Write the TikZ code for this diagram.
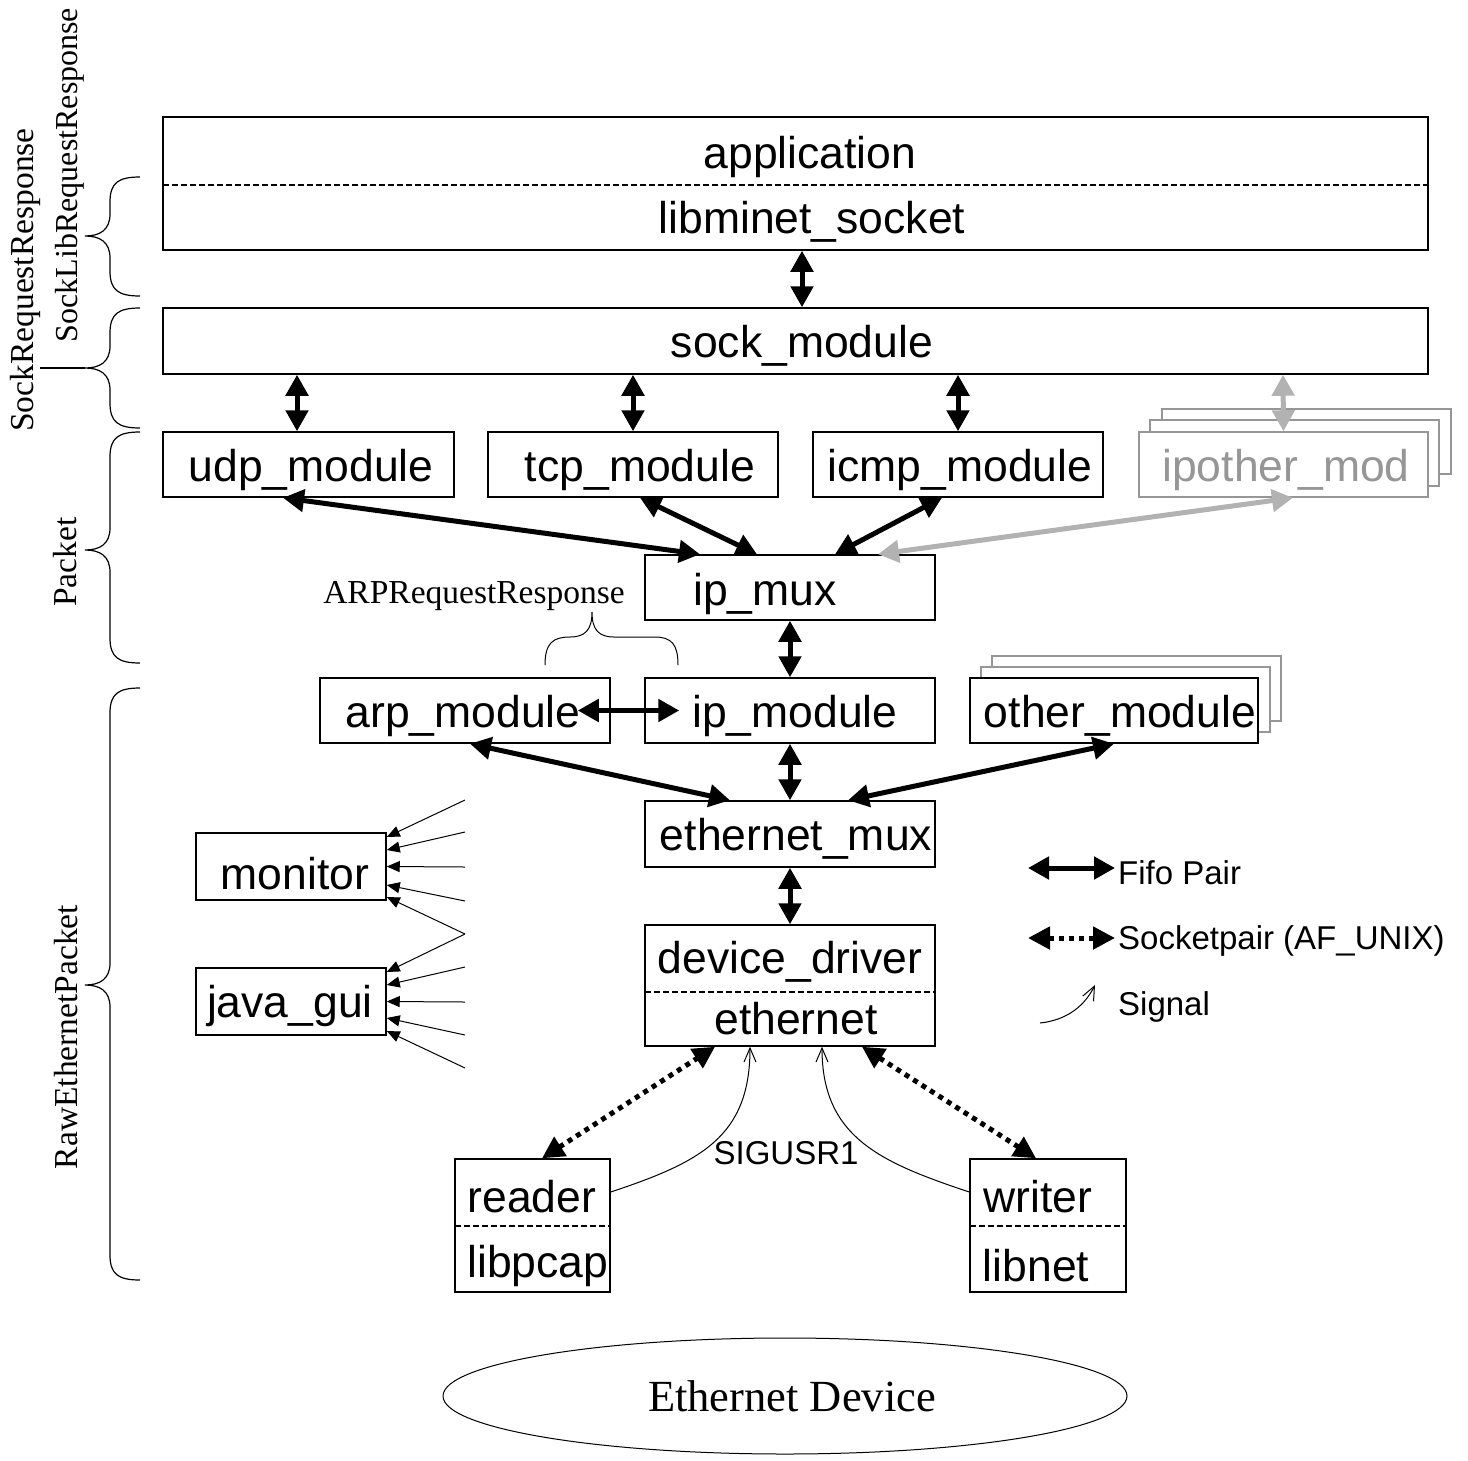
\documentclass[tikz,border=0pt]{standalone}
\usepackage{fontspec}
\setmainfont{Liberation Serif}
\setsansfont{Liberation Sans}
\usetikzlibrary{arrows.meta,fit,shapes.geometric}
\definecolor{grayA}{RGB}{150,150,150}
\definecolor{grayB}{RGB}{178,178,178}
\newcommand\mybrace[3]{\draw[bracel] (140,#1) .. controls (118,#1) and (110,#1+6) .. (110,#1+25) -- (110,#2-22) .. controls (110,#2-6) and (100,#2) .. (85,#2) .. controls (100,#2) and (110,#2+6) .. (110,#2+22) -- (110,#3-25) .. controls (110,#3-6) and (118,#3) .. (140,#3);}
\begin{document}
\begin{tikzpicture}[x=1pt,y=-1pt,
  box/.style={draw, line width=1.5pt, fill=white, inner sep=0pt},
  gbox/.style={draw=grayA, line width=1.5pt, fill=white, inner sep=0pt},
  lbl/.style={font=\sffamily\fontsize{44.5}{50}\selectfont, inner sep=0pt, yshift=-3.5pt},
  small/.style={font=\sffamily\fontsize{33}{38}\selectfont, inner sep=0pt},
  serif/.style={font=\fontsize{33.5}{38}\selectfont, inner sep=0pt},
  fifo/.style={line width=5pt, {Triangle[length=21pt,width=22pt]}-{Triangle[length=21pt,width=22pt]}},
  sockp/.style={line width=5pt, dash pattern=on 5pt off 5pt, {Triangle[length=22pt,width=22pt]}-{Triangle[length=22pt,width=22pt]}},
  sig/.style={line width=1pt, -{Straight Barb[length=14pt,width=12pt]}},
  mon/.style={line width=1pt, -{Triangle[length=13pt,width=11pt]}},
  sep/.style={line width=1.2pt, dash pattern=on 6pt off 3pt},
  bracel/.style={line width=1.2pt},
]
\useasboundingbox (0,0) rectangle (1468,1460);

% boxes
\node[box, fit={(163,117)(1428,250)}] (app) {};
\draw[sep] (163,185) -- (1428,185);
\node[box, fit={(163,308)(1428,374)}] (sock) {};
\node[box, fit={(163,432)(454,497)}] (udp) {};
\node[box, fit={(488,432)(778,497)}] (tcp) {};
\node[box, fit={(813,432)(1103,497)}] (icmp) {};
\node[gbox, fit={(1162,409)(1451,474)}] (ipo3) {};
\node[gbox, fit={(1150,420)(1439,486)}] (ipo2) {};
\node[gbox, fit={(1139,432)(1428,497)}] (ipother) {};
\node[box, fit={(645,555)(935,620)}] (ipmux) {};
\node[box, fit={(320,678)(610,743)}] (arp) {};
\node[box, fit={(645,678)(935,743)}] (ipmod) {};
\node[gbox, fit={(992,656)(1281,721)}] (oth3) {};
\node[gbox, fit={(981,667)(1270,732)}] (oth2) {};
\node[box, fit={(970,678)(1258,743)}] (other) {};
\node[box, fit={(645,801)(935,867)}] (emux) {};
\node[box, fit={(645,925)(935,1046)}] (dev) {};
\draw[sep] (645,992) -- (935,992);
\node[box, fit={(196,833)(386,900)}] (monitor) {};
\node[box, fit={(196,968)(386,1035)}] (javagui) {};
\node[box, fit={(455,1159)(610,1292)}] (reader) {};
\draw[sep] (455,1226) -- (610,1226);
\node[box, fit={(970,1159)(1126,1292)}] (writer) {};
\draw[sep] (970,1226) -- (1126,1226);
\node[draw, ellipse, line width=1pt, minimum width=684pt, minimum height=116pt, inner sep=0pt] (ethdev) at (785,1396) {};
\node[font=\fontsize{44.5}{50}\selectfont, inner sep=0pt] (t-ethdev) at (792,1396) {Ethernet Device};

% texts
\node[lbl] (t-app) at (810,153) {application};
\node[lbl] (t-lib) at (812,218) {libminet\_socket};
\node[lbl] (t-sock) at (802,342) {sock\_module};
\node[lbl] (t-udp) at (311,466) {udp\_module};
\node[lbl] (t-tcp) at (640,466) {tcp\_module};
\node[lbl] (t-icmp) at (960,466) {icmp\_module};
\node[lbl, text=grayA] (t-ipo) at (1286,466) {ipother\_mod};
\node[lbl] (t-mux) at (765,590) {ip\_mux};
\node[lbl] (t-arp) at (463,712) {arp\_module};
\node[lbl] (t-ipm) at (795,712) {ip\_module};
\node[lbl] (t-oth) at (1120,712) {other\_module};
\node[lbl] (t-emux) at (796,835) {ethernet\_mux};
\node[lbl] (t-mon) at (295,870) {monitor};
\node[lbl] (t-java) at (290,1002) {java\_gui};
\node[lbl] (t-dd) at (790,958) {device\_driver};
\node[lbl] (t-eth) at (796,1015) {ethernet};
\node[lbl] (t-rd) at (532,1193) {reader};
\node[lbl] (t-pcap) at (538,1262) {libpcap};
\node[lbl] (t-wr) at (1038,1193) {writer};
\node[lbl] (t-net) at (1036,1262) {libnet};
\node[small] (t-sig) at (786,1153) {SIGUSR1};

% fifo arrows
\draw[fifo] ([xshift=6.5pt]app.south) -- ([xshift=6.5pt]sock.north);
\draw[fifo] ([xshift=-498.5pt]sock.south) -- ([xshift=-11.5pt]udp.north);
\draw[fifo] ([xshift=-162.5pt]sock.south) -- (tcp.north);
\draw[fifo] ([xshift=162.5pt]sock.south) -- (icmp.north);
\draw[fifo, grayB] ([xshift=487.5pt]sock.south) -- (ipother.north);
\draw[fifo] ([xshift=-25.5pt]udp.south) -- ([xshift=-90pt]ipmux.north);
\draw[fifo] ([xshift=7pt]tcp.south) -- ([xshift=-33pt]ipmux.north);
\draw[fifo] ([xshift=-16pt]icmp.south) -- ([xshift=45pt]ipmux.north);
\draw[fifo, grayB] ([xshift=9.5pt]ipother.south) -- ([xshift=88pt]ipmux.north);
\draw[fifo] (ipmux.south) -- (ipmod.north);
\draw[fifo] ([xshift=-33pt]arp.east) -- ([xshift=35pt]ipmod.west);
\draw[fifo] ([xshift=5pt]arp.south) -- ([xshift=-60pt]emux.north);
\draw[fifo] (ipmod.south) -- (emux.north);
\draw[fifo] (other.south) -- ([xshift=58pt]emux.north);
\draw[fifo] (emux.south) -- (dev.north);

% socketpairs
\draw[sockp] ([xshift=9.5pt]reader.north) -- ([xshift=-75pt]dev.south);
\draw[sockp] ([xshift=-12pt]writer.north) -- ([xshift=72pt]dev.south);

% signals
\draw[sig] ([yshift=33.5pt]reader.east) .. controls +(90,-30) and +(0,90) .. ([xshift=-40pt]dev.south);
\draw[sig] ([yshift=33.5pt]writer.west) .. controls +(-90,-30) and +(0,90) .. ([xshift=32pt]dev.south);

% monitor / java_gui feeds
\coordinate (m1) at (465,800);
\coordinate (m2) at (465,832);
\coordinate (m3) at (465,867);
\coordinate (m4) at (465,901);
\coordinate (m5) at (465,934);
\coordinate (j2) at (465,967);
\coordinate (j3) at (465,1002);
\coordinate (j4) at (465,1035);
\coordinate (j5) at (465,1068);
\draw[mon] (m1) -- ([yshift=29.5pt]monitor.east);
\draw[mon] (m2) -- ([yshift=16.5pt]monitor.east);
\draw[mon] (m3) -- (monitor.east);
\draw[mon] (m4) -- ([yshift=-18.5pt]monitor.east);
\draw[mon] (m5) -- ([yshift=-30.5pt]monitor.east);
\draw[mon] (m5) -- ([yshift=29.5pt]javagui.east);
\draw[mon] (j2) -- ([yshift=16.5pt]javagui.east);
\draw[mon] (j3) -- (javagui.east);
\draw[mon] (j4) -- ([yshift=-16.5pt]javagui.east);
\draw[mon] (j5) -- ([yshift=-29.5pt]javagui.east);

% legend
\coordinate (fa) at (1028,868);
\coordinate (fb) at (1115,868);
\draw[fifo] (fa) -- (fb);
\node[small, anchor=west] (l-fifo) at (1118,873) {Fifo Pair};
\coordinate (sa) at (1028,938);
\coordinate (sb) at (1115,938);
\draw[sockp] (sa) -- (sb);
\node[small, anchor=west] (l-sock) at (1118,941) {Socketpair (AF\_UNIX)};
\coordinate (ga) at (1040,1023);
\coordinate (gb) at (1095,985);
\draw[sig] (ga) .. controls (1068,1020) and (1085,1005) .. (gb);
\node[small, anchor=west] (l-sig) at (1118,1007) {Signal};

% braces
\mybrace{177}{236}{296}
\mybrace{308}{368}{428}
\mybrace{432}{550}{663}
\mybrace{688}{985}{1280}
\draw[bracel] (40,368) -- (85,368);
\node[font=\fontsize{32}{36}\selectfont, inner sep=0pt, rotate=90] (b1) at (70,175) {SockLibRequestResponse};
\node[serif, rotate=90] (b2) at (25,280) {SockRequestResponse};
\node[serif, rotate=90] (b3) at (65,562) {Packet};
\node[serif, rotate=90] (b4) at (66,1037) {RawEthernetPacket};

% ARP brace
\draw[line width=1pt] (545,665) .. controls (545,643) and (553,637) .. (570,637) .. controls (585,637) and (592,630) .. (592,612) .. controls (592,630) and (599,637) .. (614,637) -- (655,637) .. controls (672,637) and (678,645) .. (678,665);
\node[serif] (t-arpreq) at (474,596) {ARPRequestResponse};
\end{tikzpicture}
\end{document}
